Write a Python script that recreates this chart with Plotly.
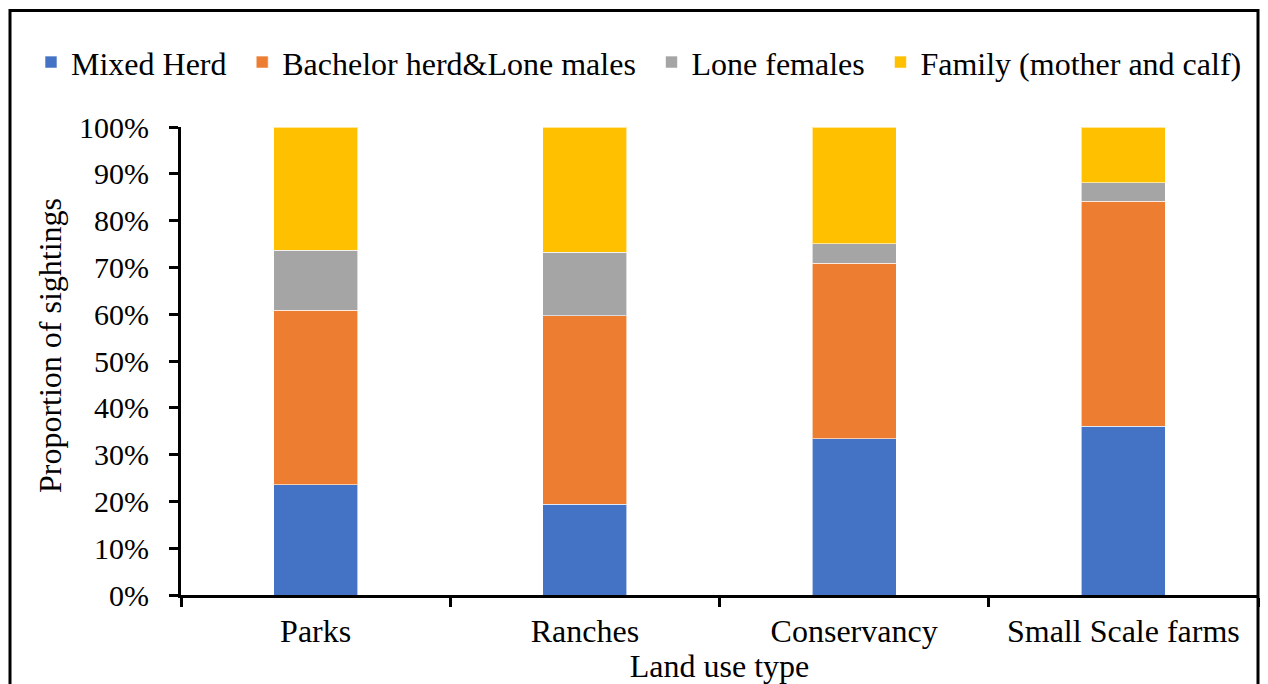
import plotly.graph_objects as go

categories = ["Parks", "Ranches", "Conservancy", "Small Scale farms"]
mixed_herd = [23.6, 19.4, 33.4, 36.1]
bachelor_lone_males = [37.2, 40.3, 37.5, 48.0]
lone_females = [12.9, 13.5, 4.2, 4.0]
family = [26.3, 26.8, 24.9, 11.9]

series_names = ["Mixed Herd", "Bachelor herd&Lone males", "Lone females", "Family (mother and calf)"]
series_values = [mixed_herd, bachelor_lone_males, lone_females, family]
colors = ["#4472C4", "#ED7D31", "#A5A5A5", "#FFC000"]

FONT = "Liberation Serif, Times New Roman, serif"
FS = 32
FS_Y = 30
PAD = "\u00a0\u200a"

fig = go.Figure()
for i, (name, vals, col) in enumerate(zip(series_names, series_values, colors)):
    fig.add_trace(go.Bar(
        x=categories, y=vals,
        name=name + (PAD if i < len(series_names) - 1 else ""),
        marker=dict(color=col, line=dict(color="rgba(255,255,255,0.6)", width=1)),
        width=0.312,
    ))

# page body has an 8px margin; work in screen coords and subtract it
OFF = 8
W, H = 1260, 676
L = 181 - OFF
T = 127 - OFF
R = W - (1258 - OFF)
B = H - (597 - OFF)
pw, ph = W - L - R, H - T - B

def px_x(x):
    return (x - OFF - L) / pw

def px_y(y):
    return (H - B - (y - OFF)) / ph

fig.update_layout(
    barmode="stack",
    width=W, height=H,
    margin=dict(l=L, r=R, t=T, b=B, pad=0),
    paper_bgcolor="white", plot_bgcolor="white",
    font=dict(family=FONT, size=FS, color="black"),
    showlegend=True,
    legend=dict(
        orientation="h", x=px_x(31), xanchor="left", y=px_y(62), yanchor="middle",
        font=dict(family=FONT, size=FS, color="black"),
        traceorder="normal", itemwidth=30, tracegroupgap=0,
        bgcolor="rgba(0,0,0,0)",
    ),
    xaxis=dict(
        type="category", range=[-0.5, 3.5],
        showline=True, linecolor="black", linewidth=3,
        ticks="outside", tickson="boundaries", ticklen=9, tickwidth=3, tickcolor="black",
        ticklabelstandoff=6,
        tickfont=dict(family=FONT, size=FS, color="black"),
        title=dict(text="Land use type", font=dict(family=FONT, size=FS, color="black"), standoff=2),
        showgrid=False, zeroline=False,
    ),
    yaxis=dict(
        range=[0, 100], tickmode="array",
        tickvals=[0, 10, 20, 30, 40, 50, 60, 70, 80, 90, 100],
        ticktext=[f"{v}%" for v in range(0, 101, 10)],
        showline=True, linecolor="black", linewidth=3,
        ticks="outside", ticklen=9, tickwidth=3, tickcolor="black",
        ticklabelstandoff=14,
        tickfont=dict(family=FONT, size=FS_Y, color="black"),
        showgrid=False, zeroline=False,
    ),
)

fig.add_annotation(
    text="Proportion of sightings", xref="paper", yref="paper",
    x=px_x(50), y=px_y(347), xanchor="center", yanchor="middle",
    textangle=-90, showarrow=False,
    font=dict(family=FONT, size=FS, color="black"),
)

fig.add_shape(
    type="rect", xref="paper", yref="paper",
    x0=px_x(10), x1=px_x(1258), y0=px_y(720), y1=px_y(OFF + 2),
    line=dict(color="black", width=3), fillcolor="rgba(0,0,0,0)", layer="above",
)

fig.write_html("out.html")
